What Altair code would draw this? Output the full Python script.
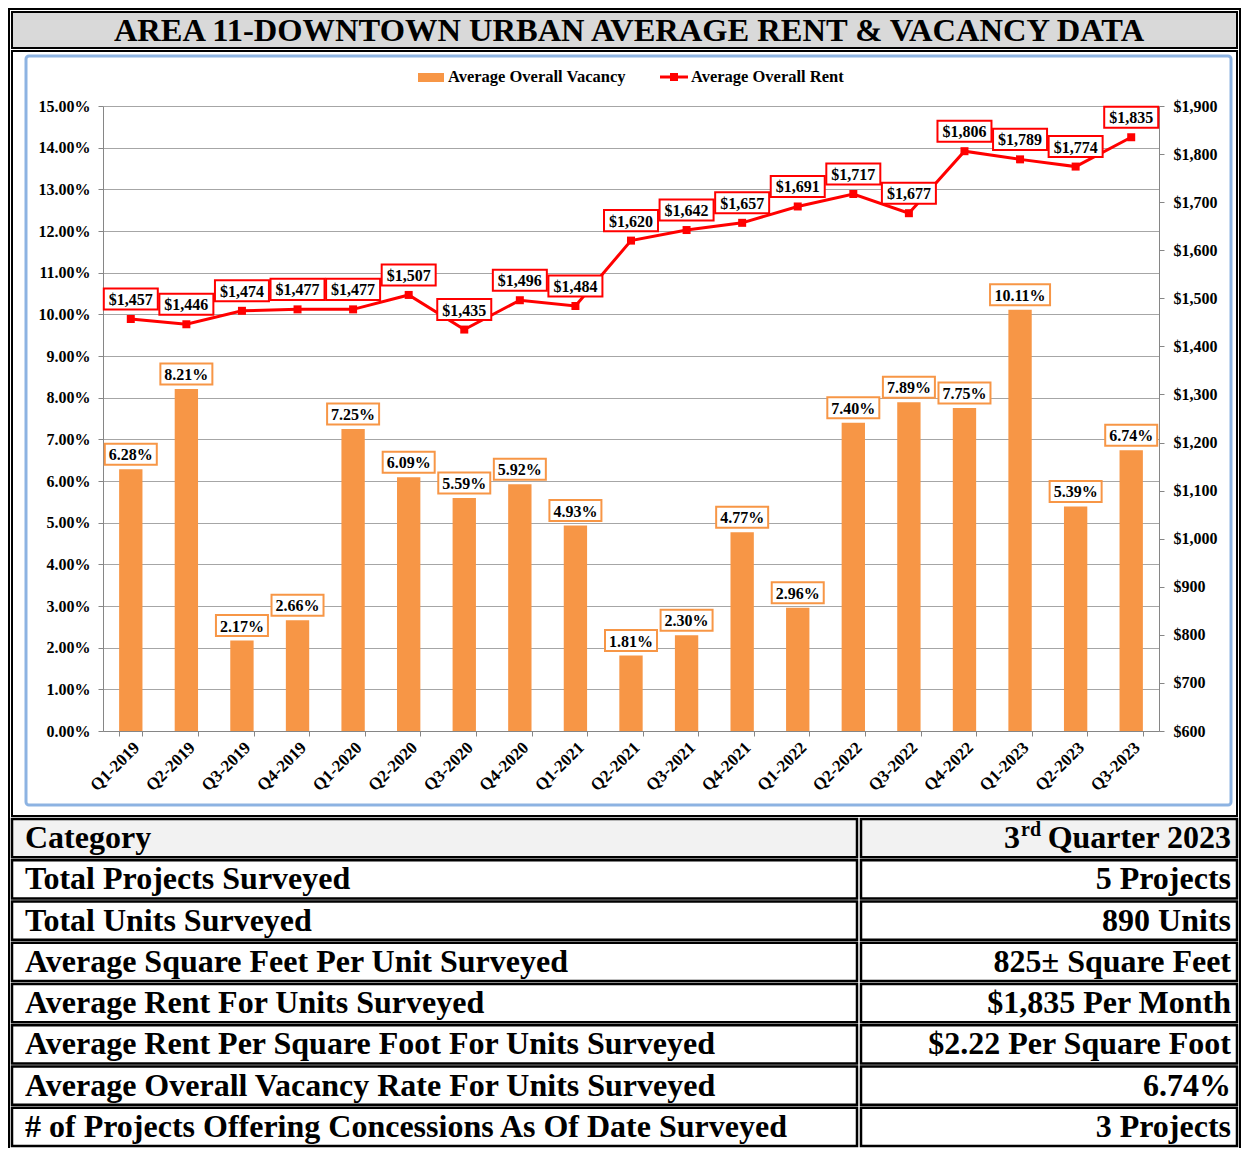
import altair as alt
import pandas as pd

# ---------------- data ----------------
title_text = "AREA 11-DOWNTOWN URBAN AVERAGE RENT & VACANCY DATA"
series_names = ["Average Overall Vacancy", "Average Overall Rent"]
quarters = ["Q1-2019", "Q2-2019", "Q3-2019", "Q4-2019",
            "Q1-2020", "Q2-2020", "Q3-2020", "Q4-2020",
            "Q1-2021", "Q2-2021", "Q3-2021", "Q4-2021",
            "Q1-2022", "Q2-2022", "Q3-2022", "Q4-2022",
            "Q1-2023", "Q2-2023", "Q3-2023"]
vacancy_pct = [6.28, 8.21, 2.17, 2.66, 7.25, 6.09, 5.59, 5.92, 4.93, 1.81,
               2.30, 4.77, 2.96, 7.40, 7.89, 7.75, 10.11, 5.39, 6.74]
avg_rent = [1457, 1446, 1474, 1477, 1477, 1507, 1435, 1496, 1484, 1620,
            1642, 1657, 1691, 1717, 1677, 1806, 1789, 1774, 1835]
vac_ticks = list(range(0, 16))
rent_ticks = list(range(600, 2000, 100))
table_header = ["Category", "3", "rd", "Quarter 2023"]
table_categories = ["Total Projects Surveyed",
                    "Total Units Surveyed",
                    "Average Square Feet Per Unit Surveyed",
                    "Average Rent For Units Surveyed",
                    "Average Rent Per Square Foot For Units Surveyed",
                    "Average Overall Vacancy Rate For Units Surveyed",
                    "# of Projects Offering Concessions As Of Date Surveyed"]
table_values = ["5 Projects", "890 Units", "825\u00b1 Square Feet",
                "$1,835 Per Month", "$2.22 Per Square Foot", "6.74%",
                "3 Projects"]

# ---------------- styles / layout ----------------
FONT = "Liberation Serif"
ORANGE = "#f79646"
RED = "#ff0000"
W, H = 1056, 625
PAD = {"left": 95, "top": 98, "right": 83, "bottom": 417}
OX, OY = 8 + PAD["left"], 8 + PAD["top"]
RIGHT = 1240  # right edge of the framed page (page px)


def X(p):
    return p - OX


def Y(p):
    return p - OY


df = pd.DataFrame({"q": quarters, "vac": vacancy_pct, "rent": avg_rent})
one = pd.DataFrame({"k": [0]})

x_enc = alt.X("q:N", sort=quarters,
              scale=alt.Scale(paddingInner=0.58, paddingOuter=0.29),
              axis=alt.Axis(title=None, labelAngle=-45, tickBand="extent",
                            tickSize=5, labelPadding=3, grid=False,
                            labelFontSize=17))

# ---------------- vacancy (bars) ----------------
vac_y = alt.Y("vac:Q", scale=alt.Scale(domain=[0, 15], nice=False, zero=True),
              axis=alt.Axis(title=None, orient="left", values=vac_ticks,
                            labelExpr="format(datum.value, '.2f') + '%'",
                            grid=True, tickSize=5, labelPadding=8))

bars = alt.Chart(df).mark_bar(color=ORANGE).encode(x=x_enc, y=vac_y)

vac_lbl = alt.Chart(df).transform_calculate(
    lbl="format(datum.vac, '.2f') + '%'",
    bw="length(datum.lbl) * 8 + 12",
    sz="datum.bw * datum.bw",
    shp="'M-1,' + (-10.5 / (datum.bw / 2)) + 'H1V' + (10.5 / (datum.bw / 2)) + 'H-1Z'",
)
vac_box = vac_lbl.mark_point(filled=True, fill="white", stroke=ORANGE,
                             strokeWidth=2, opacity=1, yOffset=-15).encode(
    x=x_enc, y="vac:Q",
    shape=alt.Shape("shp:N", scale=None),
    size=alt.Size("sz:Q", scale=None))
vac_txt = vac_lbl.mark_text(font=FONT, fontWeight="bold", fontSize=16,
                            color="black", baseline="middle",
                            yOffset=-14).encode(
    x=x_enc, y="vac:Q", text="lbl:N")

vac_layer = alt.layer(bars, vac_box, vac_txt)

# ---------------- rent (line) ----------------
rent_y = alt.Y("rent:Q", scale=alt.Scale(domain=[600, 1900], nice=False, zero=False),
               axis=alt.Axis(title=None, orient="right", values=rent_ticks,
                             format="$,.0f", grid=False, tickSize=5,
                             labelPadding=9))

rent_line = alt.Chart(df).mark_line(color=RED, strokeWidth=3).encode(x=x_enc, y=rent_y)
rent_pts = alt.Chart(df).mark_point(shape="square", filled=True, color=RED,
                                    size=64, opacity=1).encode(x=x_enc, y="rent:Q")
rent_lbl = alt.Chart(df).transform_calculate(lbl="format(datum.rent, '$,.0f')")
rent_box = rent_lbl.mark_point(filled=True, fill="white", stroke=RED, strokeWidth=2,
                               opacity=1, yOffset=-20,
                               shape="M-1,-0.39H1V0.39H-1Z", size=2916).encode(
    x=x_enc, y="rent:Q")
rent_txt = rent_lbl.mark_text(font=FONT, fontWeight="bold", fontSize=16,
                              color="black", baseline="middle",
                              yOffset=-19).encode(x=x_enc, y="rent:Q", text="lbl:N")

rent_layer = alt.layer(rent_line, rent_pts, rent_box, rent_txt)

# ---------------- frames / title / legend ----------------
def frame(x1, x2, y1, y2, **kw):
    return alt.Chart(one).mark_rect(**kw).encode(
        x=alt.value(X(x1)), x2=alt.value(X(x2)),
        y=alt.value(Y(y1)), y2=alt.value(Y(y2)))


outer = frame(9, RIGHT, 9, 1170, filled=False, color="black", strokeWidth=2)
banner = frame(12, RIGHT - 3, 12, 48, fill="#d9d9d9", stroke="black", strokeWidth=2)
chart_frame = frame(12, RIGHT - 3, 51, 816, filled=False, color="black", strokeWidth=2)
blue_frame = frame(26, 1231, 56, 805, filled=False, color="#8db3e2",
                   strokeWidth=3, cornerRadius=3)

title = alt.Chart(one).mark_text(text=title_text, font=FONT, fontWeight="bold",
                                 fontSize=32.5, color="black", align="center",
                                 baseline="middle").encode(
    x=alt.value(X(629)), y=alt.value(Y(31)))

leg_rect = frame(418, 444, 73, 82, color=ORANGE)
leg_t1 = alt.Chart(one).mark_text(text=series_names[0], font=FONT, fontWeight="bold",
                                  fontSize=16.5, color="black", align="left",
                                  baseline="middle").encode(
    x=alt.value(X(448)), y=alt.value(Y(77)))
leg_line = alt.Chart(one).mark_rule(color=RED, strokeWidth=3).encode(
    x=alt.value(X(660)), x2=alt.value(X(688)), y=alt.value(Y(77)))
leg_pt = alt.Chart(one).mark_point(shape="square", filled=True, color=RED,
                                   size=64, opacity=1).encode(
    x=alt.value(X(674)), y=alt.value(Y(77)))
leg_t2 = alt.Chart(one).mark_text(text=series_names[1], font=FONT, fontWeight="bold",
                                  fontSize=16.5, color="black", align="left",
                                  baseline="middle").encode(
    x=alt.value(X(691)), y=alt.value(Y(77)))

# ---------------- table ----------------
tdf = pd.DataFrame({
    "row": list(range(len(table_categories) + 1)),
    "left": [table_header[0]] + table_categories,
    "right": [table_header[3]] + table_values,
})
n_rows = len(tdf)
row_y = alt.Y("row:O",
              scale=alt.Scale(type="band", domain=list(range(n_rows)),
                              range=[Y(819), Y(1146)], paddingInner=0.07,
                              paddingOuter=0),
              axis=None)
tbase = alt.Chart(tdf).transform_calculate(
    fc="datum.row == 0 ? '#f2f2f2' : 'white'")
cells_l = tbase.mark_rect(stroke="black", strokeWidth=2.5).encode(
    y=row_y, x=alt.value(X(12)), x2=alt.value(X(857)),
    fill=alt.Fill("fc:N", scale=None))
cells_r = tbase.mark_rect(stroke="black", strokeWidth=2.5).encode(
    y="row:O", x=alt.value(X(861)), x2=alt.value(X(RIGHT - 3)),
    fill=alt.Fill("fc:N", scale=None))
text_l = tbase.mark_text(font=FONT, fontWeight="bold", fontSize=32, color="black",
                         align="left", baseline="middle", dy=0).encode(
    y="row:O", x=alt.value(X(25)), text="left:N")
text_r = tbase.mark_text(font=FONT, fontWeight="bold", fontSize=32, color="black",
                         align="right", baseline="middle", dy=0).encode(
    y="row:O", x=alt.value(X(1231)), text="right:N")
hdr = alt.Chart(tdf).transform_filter("datum.row == 0")
sup = hdr.mark_text(text=table_header[2], font=FONT, fontWeight="bold", fontSize=20,
                    color="black", align="right", baseline="middle", dy=-8).encode(
    y="row:O", x=alt.value(X(1041)))
num = hdr.mark_text(text=table_header[1], font=FONT, fontWeight="bold", fontSize=32,
                    color="black", align="right", baseline="middle", dy=0).encode(
    y="row:O", x=alt.value(X(1020)))

table_layer = alt.layer(cells_l, cells_r, text_l, text_r, sup, num)

chart = alt.layer(
    outer, banner, chart_frame, blue_frame, title,
    leg_rect, leg_t1, leg_line, leg_pt, leg_t2,
    vac_layer, rent_layer, table_layer,
).resolve_scale(y="independent").properties(
    width=W, height=H,
    autosize=alt.AutoSizeParams(type="none"),
    padding=PAD,
).configure_view(stroke=None).configure_axis(
    labelFont=FONT, labelFontWeight="bold", labelFontSize=16, labelColor="black",
    domainColor="#868686", tickColor="#868686", gridColor="#a6a6a6",
)

chart.save("out.html", embed_options={"renderer": "svg", "actions": False})
